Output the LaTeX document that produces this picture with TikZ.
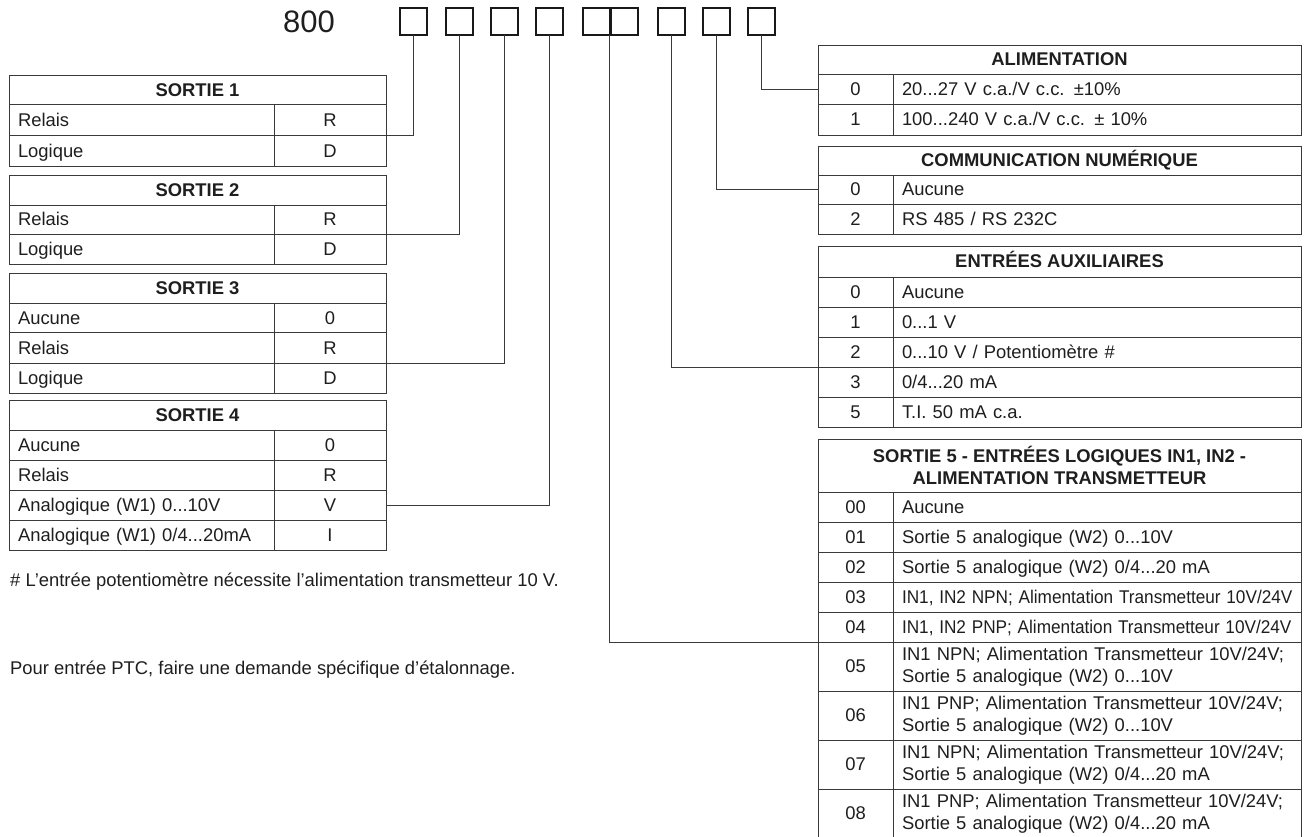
\documentclass[tikz,border=0pt]{standalone}
\usepackage{graphicx}
\usepackage{fontspec}
\setmainfont{Liberation Sans}
\definecolor{ln}{HTML}{3A3A3A}
\definecolor{tx}{HTML}{1E1E1E}
\newcommand{\LRow}[5]{%
  \node[ltext,oneline,minimum height=#3pt] (#1t) at (9,#2) {#4};
  \node[lcode,oneline,minimum height=#3pt] (#1c) at (274,#2) {#5};}
\newcommand{\RRow}[5]{%
  \node[rcode,oneline,minimum height=#3pt] (#1c) at (818,#2) {#4};
  \node[rtext,oneline,minimum height=#3pt] (#1t) at (893,#2) {#5};}
\newcommand{\RRowTwo}[5]{%
  \node[rcode,oneline,minimum height=#3pt] (#1c) at (818,#2) {#4};
  \node[rtext,minimum height=#3pt] (#1t) at (893,#2) {#5};}
\newcommand{\nbox}[1]{\hbox to 390pt{\scalebox{0.935}[1]{#1}\hss}}
\begin{document}
\begin{tikzpicture}[x=1pt,y=-1pt,
  every node/.style={text=tx, font=\fontsize{18.4}{22}\selectfont},
  oneline/.style={text height=13.2pt, text depth=0.6pt},
  cell/.style={draw=ln, line width=0.9pt, anchor=north west, inner ysep=0pt, outer sep=0pt},
  lhead/.style={cell, oneline, minimum width=377pt, inner xsep=0pt, font=\fontsize{18.4}{22}\selectfont\bfseries},
  ltext/.style={cell, text width=247pt, inner xsep=9pt, align=left},
  lcode/.style={cell, minimum width=112pt, inner xsep=0pt},
  rhead/.style={cell, minimum width=483pt, inner xsep=0pt, align=center, font=\fontsize{18.4}{22}\selectfont\bfseries},
  rcode/.style={cell, minimum width=75pt, inner xsep=0pt},
  rtext/.style={cell, text width=390pt, inner xsep=9pt, align=left},
  digitbox/.style={draw=black!90, line width=2pt, minimum size=27pt, inner sep=0pt, outer sep=0pt},
  conn/.style={draw=ln, line width=0.9pt},
  note/.style={anchor=west, inner sep=0pt}]
\useasboundingbox (0,0) rectangle (1306,837);

% code header
\node[font=\fontsize{31}{31}\selectfont, inner sep=0pt] (code) at (309,22) {800};
\node[digitbox] (b1) at (413.5,22) {};
\node[digitbox] (b2) at (459,22) {};
\node[digitbox] (b3) at (504.3,22) {};
\node[digitbox] (b4) at (549.7,22) {};
\node[digitbox] (b5) at (596,22) {};
\node[digitbox] (b6) at (624,22) {};
\node[digitbox] (b7) at (671,22) {};
\node[digitbox] (b8) at (716.4,22) {};
\node[digitbox] (b9) at (761.7,22) {};

% left tables
\node[lhead, minimum height=29.5pt] (s1h) at (9,75) {SORTIE 1};
\LRow{s1a}{104.5}{30.5}{Relais}{R}
\LRow{s1b}{135}{31.5}{Logique}{D}

\node[lhead, minimum height=30pt] (s2h) at (9,175) {SORTIE 2};
\LRow{s2a}{205}{29}{Relais}{R}
\LRow{s2b}{234}{30}{Logique}{D}

\node[lhead, minimum height=30pt] (s3h) at (9,273) {SORTIE 3};
\LRow{s3a}{303}{29.5}{Aucune}{0}
\LRow{s3b}{332.5}{30.5}{Relais}{R}
\LRow{s3c}{363}{30}{Logique}{D}

\node[lhead, minimum height=30pt] (s4h) at (9,400) {SORTIE 4};
\LRow{s4a}{430}{30}{Aucune}{0}
\LRow{s4b}{460}{30}{Relais}{R}
\LRow{s4c}{490}{30}{Analogique (W1) 0...10V}{V}
\LRow{s4d}{520}{30}{Analogique (W1) 0/4...20mA}{I}

% right tables
\node[rhead, oneline, minimum height=29pt] (alh) at (818,45) {ALIMENTATION};
\RRow{al0}{74}{30}{0}{20...27 V c.a./V c.c. ±10\%}
\RRow{al1}{104}{31}{1}{100...240 V c.a./V c.c. ± 10\%}

\node[rhead, oneline, minimum height=29pt] (cmh) at (818,146) {COMMUNICATION NUMÉRIQUE};
\RRow{cm0}{175}{29}{0}{Aucune}
\RRow{cm2}{204}{30}{2}{RS 485 / RS 232C}

\node[rhead, oneline, minimum height=31pt] (axh) at (818,246) {ENTRÉES AUXILIAIRES};
\RRow{ax0}{277}{30}{0}{Aucune}
\RRow{ax1}{307}{30}{1}{0...1 V}
\RRow{ax2}{337}{30}{2}{0...10 V / Potentiomètre \#}
\RRow{ax3}{367}{30}{3}{0/4...20 mA}
\RRow{ax5}{397}{30}{5}{T.I. 50 mA c.a.}

\node[rhead, minimum height=53pt] (zh) at (818,439) {SORTIE 5 - ENTRÉES LOGIQUES IN1, IN2 -\\ALIMENTATION TRANSMETTEUR};
\RRow{z00}{492}{30}{00}{Aucune}
\RRow{z01}{522}{30}{01}{Sortie 5 analogique (W2) 0...10V}
\RRow{z02}{552}{30}{02}{Sortie 5 analogique (W2) 0/4...20 mA}
\RRow{z03}{582}{30}{03}{\nbox{IN1, IN2 NPN; Alimentation Transmetteur 10V/24V}}
\RRow{z04}{612}{30}{04}{\nbox{IN1, IN2 PNP; Alimentation Transmetteur 10V/24V}}
\RRowTwo{z05}{642}{49}{05}{IN1 NPN; Alimentation Transmetteur 10V/24V;\\Sortie 5 analogique (W2) 0...10V}
\RRowTwo{z06}{691}{49}{06}{IN1 PNP; Alimentation Transmetteur 10V/24V;\\Sortie 5 analogique (W2) 0...10V}
\RRowTwo{z07}{740}{49}{07}{IN1 NPN; Alimentation Transmetteur 10V/24V;\\Sortie 5 analogique (W2) 0/4...20 mA}
\RRowTwo{z08}{789}{49}{08}{IN1 PNP; Alimentation Transmetteur 10V/24V;\\Sortie 5 analogique (W2) 0/4...20 mA}

% notes
\node[note] (n1) at (10,582) {\# L’entrée potentiomètre nécessite l’alimentation transmetteur 10 V.};
\node[note] (n2) at (10,670) {Pour entrée PTC, faire une demande spécifique d’étalonnage.};

% connectors
\draw[conn] (b1.south) |- (s1ac.south east);
\draw[conn] (b2.south) |- (s2ac.south east);
\draw[conn] (b3.south) |- (s3bc.south east);
\draw[conn] (b4.south) |- (s4cc.east);
\draw[conn] (b5.south east) |- (z04c.south west);
\draw[conn] (b7.south) |- (ax2c.south west);
\draw[conn] (b8.south) |- (cm0c.west);
\draw[conn] (b9.south) |- (al0c.west);
\end{tikzpicture}
\end{document}
